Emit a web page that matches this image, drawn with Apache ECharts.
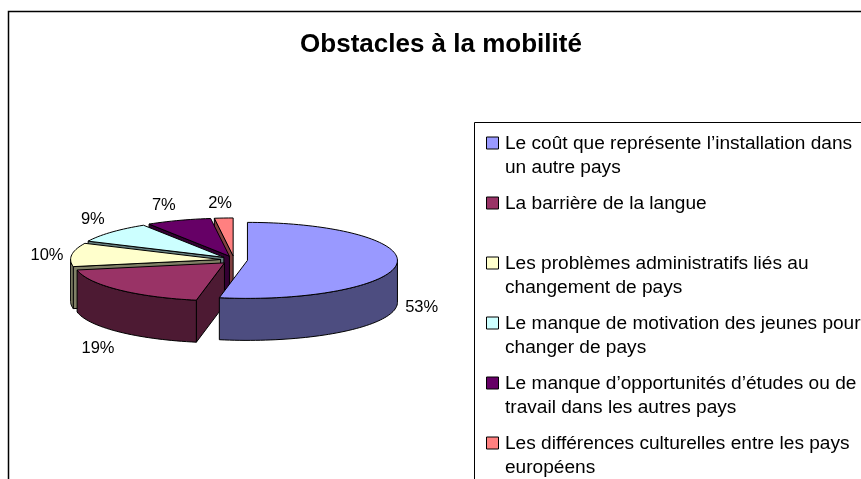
<!DOCTYPE html>
<html>
<head>
<meta charset="utf-8">
<style>
  html, body { margin: 0; padding: 0; background: #fff; overflow: hidden; }
  #chart { width: 861px; height: 479px; }
</style>
<script src="https://cdn.jsdelivr.net/npm/echarts@6/dist/echarts.min.js"></script>
</head>
<body>
<div id="chart"></div>
<script>
const chartTitle = 'Obstacles à la mobilité'
const categories = [
  'Le coût que représente l’installation dans\nun autre pays',
  'La barrière de la langue',
  'Les problèmes administratifs liés au\nchangement de pays',
  'Le manque de motivation des jeunes pour\nchanger de pays',
  'Le manque d’opportunités d’études ou de\ntravail dans les autres pays',
  'Les différences culturelles entre les pays\neuropéens',
]
const values = [53, 19, 10, 9, 7, 2]
const topColors = ['#9999ff', '#993366', '#ffffcc', '#ccffff', '#660066', '#ff8080']
const sideColors = ['#4d4d80', '#4d1a33', '#808066', '#668080', '#330033', '#804040']
const legendRowY = [143, 203, 263, 323, 383, 443]

const FONT = '"Liberation Sans", Arial, sans-serif'
const pie = { cx: 234, cy: 260, rx: 150, ry: 38, depth: 42, explode: 13.5, tilt: 0.3 }
const labelRadius = { x: 176, y: 55, front: 43 }
// 原图标签有手动避让，这里逐个微调
const labelShiftX = [-1, -2, 1, 1, -6, -2]
const labelShiftY = [-1, 4, 3, -1, 1, 2]

const total = values.reduce((a, b) => a + b, 0)
const rad = d => d * Math.PI / 180

// 从12点方向顺时针累计角度
const angles = []
values.reduce((sum, v) => {
  const start = sum / total * 360
  angles.push([start, (sum + v) / total * 360])
  return sum + v
}, 0)

function arcPoints(c, from, to) {
  const steps = Math.max(2, Math.ceil(Math.abs(to - from) / 2))
  const pts = []
  for (let i = 0; i <= steps; i++) {
    const a = rad(from + (to - from) * i / steps)
    pts.push([c[0] + pie.rx * Math.sin(a), c[1] - pie.ry * Math.cos(a)])
  }
  return pts
}

function face(points, fill) {
  return {
    type: 'polygon',
    shape: { points },
    style: { fill, stroke: '#000', lineWidth: 1, lineJoin: 'round' },
  }
}

function cutFace(c, angle, fill) {
  const p = arcPoints(c, angle, angle)[0]
  const d = pie.depth
  return face([c, p, [p[0], p[1] + d], [c[0], c[1] + d]], fill)
}

function renderSlice(params, api) {
  const i = api.value(0)
  const [start, end] = angles[i]
  const mid = rad((start + end) / 2)
  const c = [
    pie.cx + pie.explode * Math.sin(mid),
    pie.cy - pie.explode * pie.tilt * Math.cos(mid),
  ]
  const children = []

  // 侧面：只画朝向观察者的部分
  if (Math.sin(rad(start)) < -0.001) children.push(cutFace(c, start, sideColors[i]))
  if (Math.sin(rad(end)) > 0.001) children.push(cutFace(c, end, sideColors[i]))
  const wallFrom = Math.max(start, 90)
  const wallTo = Math.min(end, 270)
  if (wallTo > wallFrom) {
    const rim = arcPoints(c, wallFrom, wallTo)
    const lower = rim.map(p => [p[0], p[1] + pie.depth]).reverse()
    children.push(face(rim.concat(lower), sideColors[i]))
  }

  children.push(face([c].concat(arcPoints(c, start, end)), topColors[i]))

  const front = Math.cos(mid) < 0 ? labelRadius.front : 0
  children.push({
    type: 'text',
    z2: 10,
    style: {
      x: c[0] + labelRadius.x * Math.sin(mid) + labelShiftX[i],
      y: c[1] - labelRadius.y * Math.cos(mid) + front + labelShiftY[i],
      text: `${api.value(1)}%`,
      fill: '#000',
      font: `16.5px ${FONT}`,
      align: 'center',
      verticalAlign: 'middle',
    },
  })
  return { type: 'group', children }
}

const legendItems = []
categories.forEach((name, i) => {
  legendItems.push({
    type: 'rect',
    shape: { x: 486.5, y: legendRowY[i] - 6, width: 12, height: 12 },
    style: { fill: topColors[i], stroke: '#000', lineWidth: 1 },
  })
  legendItems.push({
    type: 'text',
    style: {
      x: 505,
      y: legendRowY[i] - 11,
      text: name,
      fill: '#000',
      font: `19.1px ${FONT}`,
      lineHeight: 24,
      verticalAlign: 'top',
    },
  })
})

const myChart = echarts.init(document.getElementById('chart'), null, { renderer: 'canvas' })
myChart.setOption({
  animation: false,
  backgroundColor: '#fff',
  title: {
    text: chartTitle,
    left: 436,
    top: 27,
    textAlign: 'center',
    textStyle: { fontFamily: FONT, fontSize: 26, fontWeight: 'bold', color: '#000' },
  },
  graphic: [
    {
      type: 'rect',
      shape: { x: 8.5, y: 11.5, width: 1000, height: 1000 },
      style: { fill: 'none', stroke: '#000', lineWidth: 1.5 },
    },
    {
      type: 'rect',
      shape: { x: 474.5, y: 122.5, width: 600, height: 600 },
      style: { fill: 'none', stroke: '#000', lineWidth: 1 },
    },
    ...legendItems,
  ],
  series: [
    {
      type: 'custom',
      coordinateSystem: 'none',
      renderItem: renderSlice,
      // 由后向前绘制
      data: values.map((v, i) => [i, v]).reverse(),
    },
  ],
})
</script>
</body>
</html>
